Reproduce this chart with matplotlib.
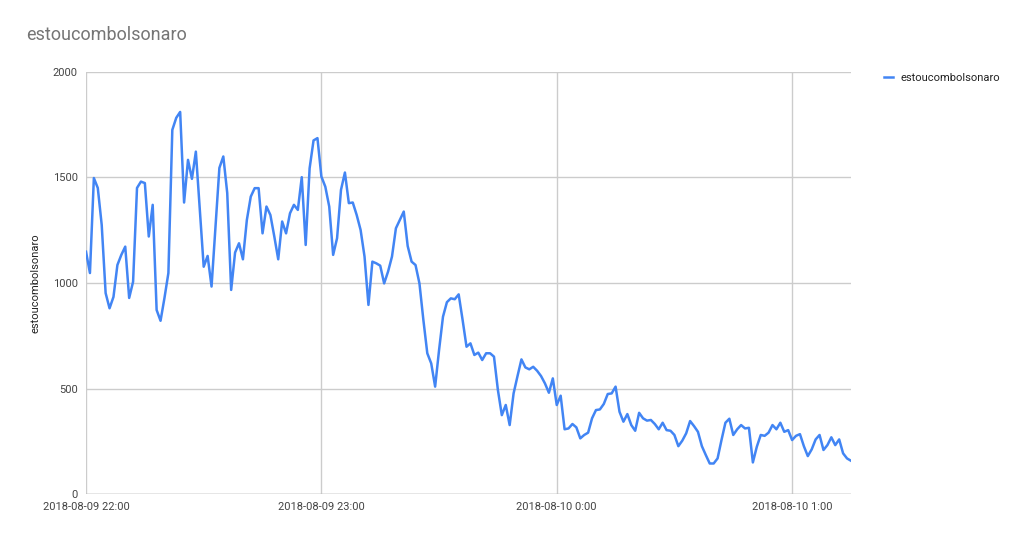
import pandas as pd
import matplotlib.pyplot as plt
import matplotlib.dates as mdates
from matplotlib.ticker import FuncFormatter

Title = "estoucombolsonaro"

start = "2018-08-09 22:00"
counts = [
    1148, 1047, 1497, 1450, 1275, 952, 880, 934, 1085, 1133,
    1172, 929, 1006, 1450, 1480, 1473, 1220, 1370, 872, 821,
    929, 1047, 1725, 1782, 1810, 1381, 1583, 1493, 1622, 1350,
    1077, 1128, 983, 1267, 1545, 1599, 1426, 967, 1144, 1188,
    1112, 1298, 1409, 1449, 1449, 1235, 1362, 1322, 1220, 1112,
    1291, 1235, 1330, 1370, 1346, 1501, 1180, 1543, 1675, 1686,
    1504, 1456, 1362, 1133, 1212, 1441, 1523, 1378, 1381, 1322,
    1251, 1125, 896, 1101, 1093, 1082, 998, 1054, 1125, 1259,
    1298, 1338, 1175, 1101, 1085, 998, 825, 667, 619, 509,
    682, 840, 909, 927, 923, 946, 825, 698, 714, 659,
    670, 635, 667, 667, 651, 493, 374, 422, 327, 477,
    559, 638, 600, 591, 603, 584, 559, 524, 480, 548,
    422, 466, 307, 311, 332, 316, 264, 280, 291, 359,
    398, 401, 427, 474, 477, 509, 390, 343, 379, 327,
    300, 385, 359, 348, 351, 332, 307, 338, 303, 300,
    280, 227, 253, 288, 346, 322, 295, 227, 185, 145,
    145, 169, 256, 338, 357, 280, 307, 327, 311, 314,
    150, 224, 280, 276, 291, 327, 307, 338, 295, 303,
    256, 276, 284, 227, 180, 212, 259, 280, 209, 232,
    269, 232, 259, 193, 169, 158,
]
times = pd.date_range(start, periods=len(counts), freq="min")
tick_times = pd.to_datetime(["2018-08-09 22:00", "2018-08-09 23:00",
                             "2018-08-10 00:00", "2018-08-10 01:00"])
y_ticks = [0, 500, 1000, 1500, 2000]

plt.rcParams['font.family'] = ['Roboto', 'DejaVu Sans']

fig = plt.figure(figsize=(10.24, 5.4), dpi=100)
ax = fig.add_axes([0.084, 0.085, 0.747, 0.782])

ax.plot(times, counts, color="#4285f4", linewidth=1.8, label="estoucombolsonaro")

ax.set_xlim(times[0], times[-1])
ax.set_ylim(0, 2000)
ax.set_yticks(y_ticks)
ax.set_xticks(tick_times)
ax.xaxis.set_major_formatter(FuncFormatter(
    lambda v, pos: (lambda d: f"{d:%Y-%m-%d} {d.hour}:{d:%M}")(mdates.num2date(v))))

ax.grid(True, color="#cccccc", linewidth=1)
ax.set_axisbelow(True)
for s in ax.spines.values():
    s.set_visible(False)
ax.axhline(0, color="#aaaaaa", linewidth=1, zorder=1)
ax.tick_params(length=0, labelsize=8, colors="#444444", pad=6)

ax.set_ylabel("estoucombolsonaro", fontsize=8, color="#222222", labelpad=9)
fig.text(0.026, 0.925, Title, fontsize=13, color="#757575")

ax.legend(loc="upper left", bbox_to_anchor=(1.03, 1.02), frameon=False,
          fontsize=8, labelcolor="#222222", handlelength=0.8, handletextpad=0.7)

fig.savefig("out.png", dpi=100)
